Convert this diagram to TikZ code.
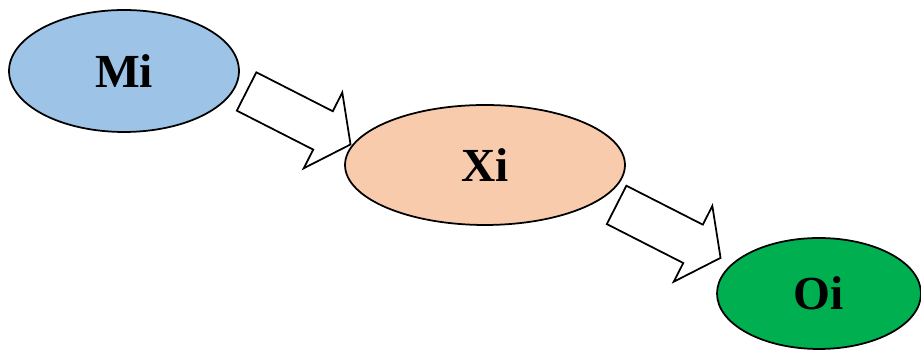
\documentclass[tikz,border=0pt]{standalone}
\usepackage{fontspec}
\setmainfont{Liberation Serif}
\usetikzlibrary{shapes.geometric,shapes.arrows,calc}

\definecolor{mifill}{RGB}{157,195,230}
\definecolor{xifill}{RGB}{248,203,173}
\definecolor{oifill}{RGB}{0,176,80}

\begin{document}
\begin{tikzpicture}[
		x=0.02cm, y=-0.02cm,
		state/.style={ellipse, draw=black, line width=1pt, inner sep=0pt,
			font=\fontsize{27}{30}\selectfont\bfseries},
		blockarrow/.style={single arrow, draw=black, line width=1pt, fill=white,
			inner xsep=0pt, inner ysep=0.413cm, single arrow head extend=0.42cm,
			single arrow tip angle=108, minimum height=2.334cm, rotate=-27}
	]
		\useasboundingbox (0,0) rectangle (921,350);
		% états
		\node[state, fill=mifill, minimum width=4.6cm, minimum height=2.44cm] (Mi) at (124,71) {Mi};
		\node[state, fill=xifill, minimum width=5.6cm, minimum height=2.4cm] (Xi) at (485,165) {Xi};
		\node[state, fill=oifill, minimum width=4.08cm, minimum height=2.22cm] (Oi) at (819,293.5) {Oi};
		% flèches entre les états
		\node[blockarrow, xshift=-0.04cm, yshift=0.06cm] (MX) at ($(Mi.east)!0.5!(Xi.west)$) {};
		\node[blockarrow, xshift=-0.18cm, yshift=-0.06cm] (XO) at ($(Xi.east)!0.5!(Oi.west)$) {};
	\end{tikzpicture}
\end{document}
